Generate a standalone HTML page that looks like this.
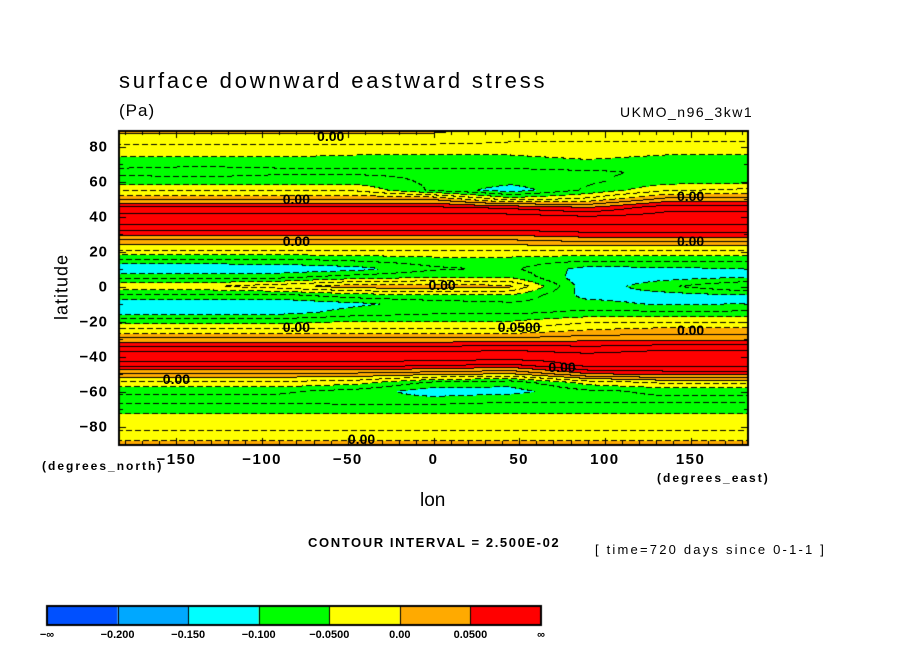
<!DOCTYPE html>
<html><head><meta charset="utf-8">
<style>
html,body{margin:0;padding:0;background:#fff;}
#wrap{position:relative;width:904px;height:654px;overflow:hidden;font-family:"Liberation Sans","DejaVu Sans",sans-serif;color:#000;}
.t{position:absolute;white-space:nowrap;}
canvas{position:absolute;left:0;top:0;}
</style></head>
<body>
<div id="wrap">
<canvas id="cv" width="904" height="654"></canvas>
<div class="t" style="left:119px;top:68px;font-size:22px;letter-spacing:2.8px;">surface downward eastward stress</div>
<div class="t" style="left:119px;top:101px;font-size:17px;letter-spacing:1px;">(Pa)</div>
<div class="t" style="left:620px;top:104px;font-size:14px;letter-spacing:1.5px;">UKMO_n96_3kw1</div>
<div class="t" style="left:62px;top:287px;font-size:18px;letter-spacing:1px;transform:translate(-50%,-50%) rotate(-90deg);">latitude</div>
<div class="t" style="left:42px;top:459px;font-size:12px;font-weight:bold;letter-spacing:2px;">(degrees_north)</div>
<div class="t" style="left:420px;top:490px;font-size:19px;">lon</div>
<div class="t" style="left:657px;top:471px;font-size:12px;font-weight:bold;letter-spacing:2px;">(degrees_east)</div>
<div class="t" style="left:308px;top:535px;font-size:13px;font-weight:bold;letter-spacing:1.6px;">CONTOUR INTERVAL = 2.500E-02</div>
<div class="t" style="left:595px;top:542px;font-size:13px;letter-spacing:2.2px;">[ time=720 days since 0-1-1 ]</div>
</div>
<script>
// ---- data (values in 0.01 Pa) ----
const lons = [-180,-135,-90,-45,0,45,90,135,180];
const lats = [90,85,80,75,70,65,60,55,50,45,40,35,30,25,20,15,10,5,0,-5,-10,-15,-20,-25,-30,-35,-40,-45,-50,-55,-60,-65,-70,-75,-80,-85,-90];
const colM180=[1,-1,-3,-4.5,-7,-8,-6.5,-3,2,8,11,10,6,1,-3,-8,-12.5,-8,-3,-8,-12,-11.5,-6,-2,3,8,12,9,2,-3,-7,-8.5,-6,-4,-3,-2,1];
const colM135=[1,-1,-3,-4.5,-7,-8.5,-6.5,-3,2,8,11,10,6,1,-3,-8,-12.5,-8,-3,-8,-12,-11.5,-6,-2,3,8,12,9,2,-3,-7,-8.5,-6,-4,-3,-2,1];
const colM90 =[1,-1,-3,-4.5,-7,-8,-6,-3,2,8,11,10,6,1,-3,-8,-12,-8,-1,-8,-12,-11,-6,-2,3,8,12,9,2,-3,-7,-8.5,-6,-4,-3,-2,1];
const colM45 =[1,-1,-3,-5,-7,-8,-6,-3,2,8,11,10,6,1,-3,-7,-11,-6,1.5,-6,-10.5,-9,-5,-2,3,8,12,9,2,-4,-8.5,-9,-6,-4,-3,-2,1];
const col0   =[1,-1,-3,-5,-7,-8,-8,-8,2,8,11,10,6,1,-3,-6,-8,-5,1.5,-5,-9,-8,-5,-2,3,8,12,8,1,-8,-11.5,-9,-6,-4,-3,-2,1];
const col45  =[-1,-2,-3,-5,-7,-8,-9,-11.5,-4,7,11,10,6,1,-3,-6,-7,-5,0.5,-5,-8,-8,-5,-2,3,9,12,7,0,-9,-11,-8,-6,-4,-3,-2,1];
const col90  =[-1,-2,-3,-4,-6,-8,-8,-7,-2,5,10,10,7,2,-3,-7,-11,-12,-12,-11,-9,-7,-3,0,4,8,11,11,5,-4,-8,-8,-6,-4,-3,-2,1];
const col135 =[-1,-2,-3,-5,-7,-7,-6,-3,3,9,11,10,7,2,-3,-7,-10.5,-11,-8,-11,-10.5,-7,-3,1,4,9,12,11,6,-2,-7,-8,-6,-4,-3,-2,1];
const colP180=[-1,-2,-3,-5,-7,-7,-6,-2,3,9,11,10,7,2,-3,-7,-10,-10,-5,-10,-10,-7,-3,1,4,9,12,11,6,-2,-7,-8,-6,-4,-3,-2,1];
const columns=[colM180,colM135,colM90,colM45,col0,col45,col90,col135,colP180];
const levels=[-0.2,-0.15,-0.1,-0.05,0,0.05];
const levelColors=["#0050ff","#00a8ff","#00ffff","#00ff00","#ffff00","#ffaa00","#ff0000"];
const cbarLabels=["\u2212\u221e","\u22120.200","\u22120.150","\u22120.100","\u22120.0500","0.00","0.0500","\u221e"];
const contourLabels=[["0.00",-60,86],["0.00",-80,50],["0.00",-80,26],["0.00",5,1],["0.00",-80,-23],["0.0500",50,-23],["0.00",75,-46],["0.00",-150,-53],["0.00",-42,-87],["0.00",150,52],["0.00",150,26],["0.00",150,-25]];
// ---- axes ----
const X0=119,X1=748,Y0=131,Y1=445;
const lonMin=-183.5,lonMax=183.5,latMax=89,latMin=-90.5;
const xs=lon=>X0+(lon-lonMin)/(lonMax-lonMin)*(X1-X0);
const ys=lat=>Y0+(latMax-lat)/(latMax-latMin)*(Y1-Y0);
const lonOf=px=>lonMin+(px-X0)/(X1-X0)*(lonMax-lonMin);
const latOf=py=>latMax-(py-Y0)/(Y1-Y0)*(latMax-latMin);
function val(lon,lat){
  lon=Math.max(-180,Math.min(180,lon));lat=Math.max(-90,Math.min(90,lat));
  let i=Math.min(lons.length-2,Math.floor((lon+180)/45));
  let fx=(lon-lons[i])/(lons[i+1]-lons[i]);
  let j=Math.min(lats.length-2,Math.floor((90-lat)/5));
  let fy=(lats[j]-lat)/(lats[j]-lats[j+1]);
  const a=columns[i][j],b=columns[i+1][j],c=columns[i][j+1],d=columns[i+1][j+1];
  return ((a*(1-fx)+b*fx)*(1-fy)+(c*(1-fx)+d*fx)*fy)*0.01;
}
const cv=document.getElementById('cv');const ctx=cv.getContext('2d');
const W=X1-X0,H=Y1-Y0;
const V=new Float32Array(W*H);
for(let y=0;y<H;y++)for(let x=0;x<W;x++)V[y*W+x]=val(lonOf(X0+x+0.5),latOf(Y0+y+0.5));
const img=ctx.createImageData(W,H);
function hex(c){return[parseInt(c.substr(1,2),16),parseInt(c.substr(3,2),16),parseInt(c.substr(5,2),16)];}
const rgb=levelColors.map(hex);
const band=v=>{let k=0;while(k<levels.length&&v>=levels[k])k++;return k;};
const ci=v=>Math.floor(v/0.025);
for(let y=0;y<H;y++)for(let x=0;x<W;x++){
  const v=V[y*W+x];let c=rgb[band(v)];
  const k=ci(v);let edge=false;
  if(x+1<W&&ci(V[y*W+x+1])!==k)edge=true;
  if(y+1<H&&ci(V[(y+1)*W+x])!==k)edge=true;
  if(edge){const neg=v<0;if(!neg||((x+y)%9)<6)c=[0,0,0];}
  const o=(y*W+x)*4;img.data[o]=c[0];img.data[o+1]=c[1];img.data[o+2]=c[2];img.data[o+3]=255;
}
ctx.putImageData(img,X0,Y0);
ctx.strokeStyle="#000";ctx.lineWidth=2;ctx.strokeRect(X0,Y0,W,H);
ctx.lineWidth=1;
for(let lo=-180;lo<=180;lo+=10){const x=Math.round(xs(lo))+0.5;const L=lo%50===0?7:4;
 ctx.beginPath();ctx.moveTo(x,Y1);ctx.lineTo(x,Y1-L);ctx.moveTo(x,Y0);ctx.lineTo(x,Y0+L);ctx.stroke();}
for(let la=-90;la<=80;la+=10){const y=Math.round(ys(la))+0.5;const L=la%20===0?7:4;
 ctx.beginPath();ctx.moveTo(X0,y);ctx.lineTo(X0+L,y);ctx.moveTo(X1,y);ctx.lineTo(X1-L,y);ctx.stroke();}
const wrap=document.getElementById('wrap');
function addText(txt,x,y,style,name){const d=document.createElement('div');d.className='t';d.textContent=txt;
 d.style.cssText=`left:${x}px;top:${y}px;`+style;
 
 
 wrap.appendChild(d);return d;}
for(let la=-80;la<=80;la+=20){addText(String(la).replace('-','\u2212'),108,ys(la),"font-size:15px;font-weight:bold;letter-spacing:1px;transform:translate(-100%,-50%);","y-tick-label");}
for(let lo=-150;lo<=150;lo+=50){addText(String(lo).replace('-','\u2212'),xs(lo),451,"font-size:15px;font-weight:bold;letter-spacing:1.5px;transform:translateX(-50%);","x-tick-label");}
contourLabels.forEach(l=>{addText(l[0],xs(l[1]),ys(l[2]),"font-size:14px;font-weight:bold;transform:translate(-50%,-50%);","contour-label");});
const cbX0=47,cbX1=541,cbY0=606,cbY1=625;const bw=(cbX1-cbX0)/levelColors.length;
levelColors.forEach((c,i)=>{ctx.fillStyle=c;ctx.fillRect(cbX0+i*bw,cbY0,bw,cbY1-cbY0);});
ctx.lineWidth=2;ctx.strokeRect(cbX0,cbY0,cbX1-cbX0,cbY1-cbY0);
ctx.lineWidth=1;for(let i=1;i<levelColors.length;i++){const x=Math.round(cbX0+i*bw)+0.5;ctx.beginPath();ctx.moveTo(x,cbY0);ctx.lineTo(x,cbY1);ctx.stroke();}
cbarLabels.forEach((t,i)=>{addText(t,cbX0+i*bw,629,"font-size:11px;font-weight:bold;transform:translateX(-50%);","colorbar-label");});
</script>
</body></html>
